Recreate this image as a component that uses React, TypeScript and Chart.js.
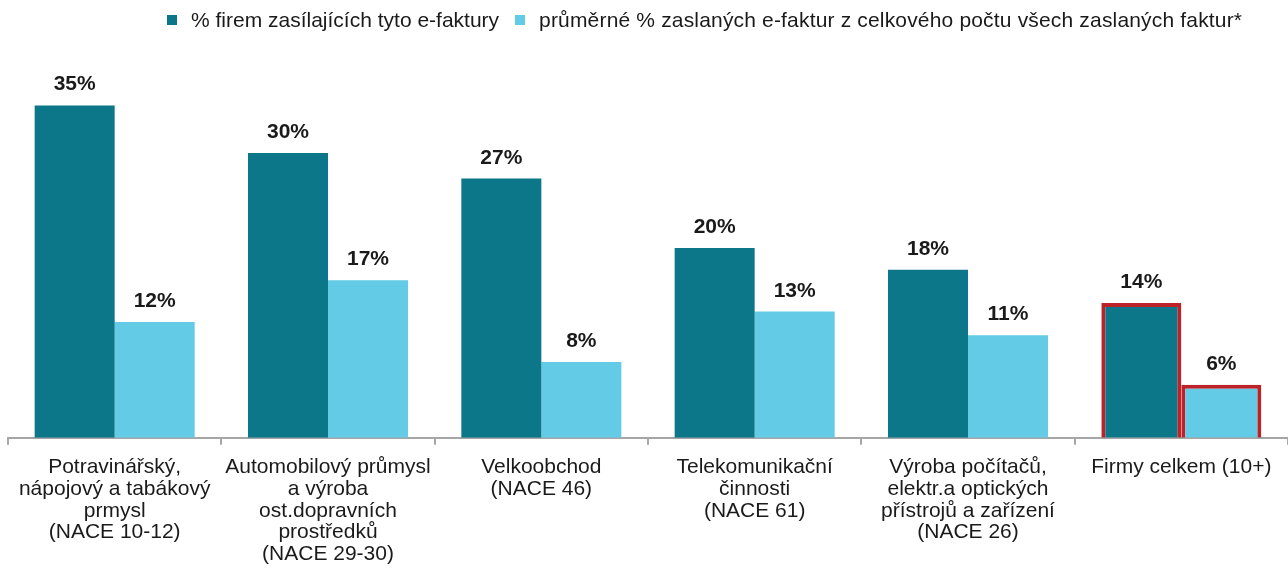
import React, { useEffect, useRef } from "react";
import { Chart, registerables } from "chart.js";

Chart.register(...registerables);

const categories: string[][] = [
  ["Potravinářský,", "nápojový a tabákový", "prmysl", "(NACE 10-12)"],
  ["Automobilový průmysl", "a výroba", "ost.dopravních", "prostředků", "(NACE 29-30)"],
  ["Velkoobchod", "(NACE 46)"],
  ["Telekomunikační", "činnosti", "(NACE 61)"],
  ["Výroba počítačů,", "elektr.a optických", "přístrojů a zařízení", "(NACE 26)"],
  ["Firmy celkem (10+)"],
];

const seriesNames = [
  "% firem zasílajících tyto e-faktury",
  "průměrné % zaslaných e-faktur z celkového počtu všech zaslaných faktur*",
];

const firmsShare = [35, 30, 27.3, 20, 17.7, 14.2];
const invoiceShare = [12.2, 16.6, 8, 13.3, 10.8, 5.6];

const DARK = "#0B7789";
const LIGHT = "#63CBE5";
const RED = "#BE2229";
const FONT = "'Liberation Sans', Arial, sans-serif";

const labelPlugin = {
  id: "barLabels",
  afterDatasetsDraw(chart: any) {
    const ctx = chart.ctx;
    ctx.save();
    ctx.font = `bold 21px ${FONT}`;
    ctx.fillStyle = "#1A1A1A";
    ctx.textAlign = "center";
    ctx.textBaseline = "alphabetic";
    chart.data.datasets.forEach((ds: any, di: number) => {
      const meta = chart.getDatasetMeta(di);
      meta.data.forEach((bar: any, i: number) => {
        const v = ds.data[i];
        ctx.fillText(Math.round(v) + "%", bar.x, bar.y - 15);
      });
    });
    ctx.restore();
  },
};

export default function App() {
  const ref = useRef<HTMLCanvasElement>(null);
  useEffect(() => {
    if (!ref.current) return;
    const n = categories.length;
    const border = (c: string) => categories.map((_, i) => (i === n - 1 ? RED : c));
    const bw = categories.map((_, i) => (i === n - 1 ? 4 : 0));
    const chart = new Chart(ref.current, {
      type: "bar",
      data: {
        labels: categories,
        datasets: [
          {
            label: seriesNames[0],
            data: firmsShare,
            backgroundColor: DARK,
            borderColor: border(DARK),
            borderWidth: bw,
            categoryPercentage: 0.75,
            barPercentage: 1,
          },
          {
            label: seriesNames[1],
            data: invoiceShare,
            backgroundColor: LIGHT,
            borderColor: border(LIGHT),
            borderWidth: bw,
            categoryPercentage: 0.75,
            barPercentage: 1,
          },
        ],
      },
      options: {
        animation: false,
        responsive: false,
        maintainAspectRatio: false,
        layout: { padding: { left: 8, right: 0, top: 58, bottom: -4 } },
        plugins: {
          legend: { display: false },
          tooltip: { enabled: false },
        },
        scales: {
          x: {
            grid: {
              display: true,
              drawOnChartArea: false,
              drawTicks: true,
              tickLength: 7,
              color: "#A6A6A6",
              lineWidth: 2,
            },
            border: { display: true, color: "#A6A6A6", width: 2 },
            ticks: {
              color: "#1A1A1A",
              font: { family: FONT, size: 21, lineHeight: 1.03 },
              padding: 12,
              maxRotation: 0,
              autoSkip: false,
            },
          },
          y: {
            display: false,
            min: 0,
            max: 40,
          },
        },
      },
      plugins: [labelPlugin],
    });
    return () => chart.destroy();
  }, []);

  return (
    <div style={{ position: "fixed", left: 0, top: 0, width: 1288, height: 573, background: "#fff" }}>
      <div
        style={{
          position: "absolute",
          left: 167,
          top: 8,
          display: "flex",
          alignItems: "center",
          fontFamily: FONT,
          fontSize: 21,
          color: "#1A1A1A",
          whiteSpace: "nowrap",
        }}
      >
        <span style={{ display: "inline-block", width: 10, height: 10, background: DARK, marginRight: 14 }} />
        <span>{seriesNames[0]}</span>
        <span style={{ display: "inline-block", width: 10, height: 10, background: LIGHT, marginLeft: 16, marginRight: 14 }} />
        <span style={{ letterSpacing: 0.17 }}>{seriesNames[1]}</span>
      </div>
      <canvas ref={ref} width={1288} height={573} style={{ display: "block" }} />
    </div>
  );
}
